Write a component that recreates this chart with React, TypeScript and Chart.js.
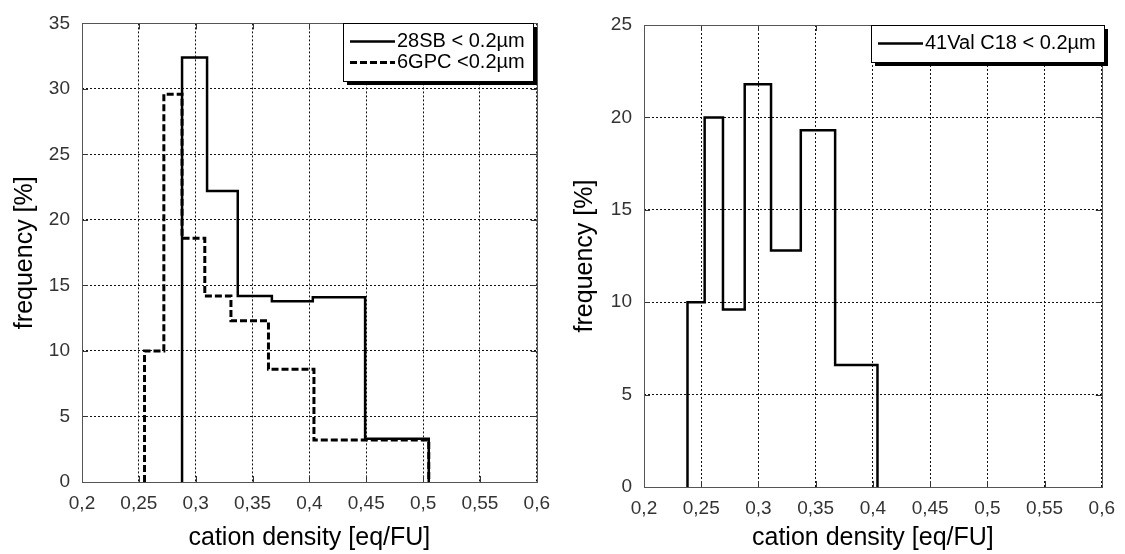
import React, { useEffect, useRef } from 'react';
import { Chart, registerables } from 'chart.js';

Chart.register(...registerables);

const FONT = '"Liberation Sans", Arial, Helvetica, sans-serif';

// Histogram bin edges (cation density, eq/FU) and bin frequencies (%)
const sb28Edges = [0.288, 0.31, 0.337, 0.367, 0.403, 0.449, 0.505];
const sb28Freq = [32.4, 22.2, 14.2, 13.8, 14.1, 3.3];

const gpc6Edges = [0.255, 0.272, 0.288, 0.308, 0.331, 0.364, 0.404, 0.505];
const gpc6Freq = [10.0, 29.6, 18.6, 14.2, 12.3, 8.6, 3.2];

const val41Edges = [0.238, 0.253, 0.269, 0.288, 0.311, 0.337, 0.367, 0.404];
const val41Freq = [10.0, 20.0, 9.6, 21.8, 12.8, 19.3, 6.6];

const xMin = 0.2;
const xMax = 0.6;
const xStep = 0.05;
const yStep = 5;

const xTitle = 'cation density [eq/FU]';
const yTitle = 'frequency [%]';

// Outline of a histogram: rise at the first edge, step across each bin, drop at the last edge
function stepPoints(edges: number[], freq: number[]) {
  const pts = [{ x: edges[0], y: 0 }];
  freq.forEach((f, i) => pts.push({ x: edges[i], y: f }));
  pts.push({ x: edges[edges.length - 1], y: 0 });
  return pts;
}

const formatComma = (v: number) => String(+v.toFixed(2)).replace('.', ',');

type Series = { label: string; edges: number[]; freq: number[]; dash: number[]; width: number };

function framePlugin(legendInset: number) {
  return {
    id: 'frameTicksLegend',
    afterDraw(chart: any) {
      const { ctx, chartArea: a, scales } = chart;
      ctx.save();
      // short inward tick marks on all four sides
      ctx.strokeStyle = '#333';
      ctx.lineWidth = 1;
      ctx.setLineDash([]);
      ctx.beginPath();
      scales.x.ticks.forEach((t: any) => {
        const px = Math.round(scales.x.getPixelForValue(t.value)) + 0.5;
        ctx.moveTo(px, a.bottom);
        ctx.lineTo(px, a.bottom - 6);
        ctx.moveTo(px, a.top);
        ctx.lineTo(px, a.top + 6);
      });
      scales.y.ticks.forEach((t: any) => {
        const py = Math.round(scales.y.getPixelForValue(t.value)) + 0.5;
        ctx.moveTo(a.left, py);
        ctx.lineTo(a.left + 6, py);
        ctx.moveTo(a.right, py);
        ctx.lineTo(a.right - 6, py);
      });
      ctx.stroke();

      // plot frame
      ctx.strokeStyle = '#555';
      ctx.strokeRect(Math.round(a.left) + 0.5, Math.round(a.top) + 0.5, Math.round(a.width), Math.round(a.height));

      // boxed legend with drop shadow in the upper-right corner
      ctx.font = `20px ${FONT}`;
      const items = chart.data.datasets;
      const textW = Math.max(...items.map((d: any) => ctx.measureText(d.label).width));
      const padL = 7, lineLen = 45, gap = 2, padR = 8, rowH = 21, padV = 8;
      const w = Math.round(padL + lineLen + gap + textW + padR);
      const h = padV * 2 + rowH * items.length;
      const x = Math.round(a.right - legendInset - w);
      const y = Math.round(a.top);
      ctx.fillStyle = '#000';
      ctx.fillRect(x + 4, y + 4, w, h);
      ctx.fillStyle = '#fff';
      ctx.fillRect(x, y, w, h);
      ctx.strokeStyle = '#000';
      ctx.lineWidth = 1;
      ctx.strokeRect(x + 0.5, y + 0.5, w, h);
      items.forEach((d: any, i: number) => {
        const cy = y + padV + rowH * (i + 0.5);
        ctx.setLineDash(d.borderDash || []);
        ctx.lineWidth = d.borderWidth;
        ctx.beginPath();
        ctx.moveTo(x + padL, cy);
        ctx.lineTo(x + padL + lineLen, cy);
        ctx.stroke();
        ctx.setLineDash([]);
        ctx.fillStyle = '#000';
        ctx.textBaseline = 'middle';
        ctx.textAlign = 'left';
        ctx.fillText(d.label, x + padL + lineLen + gap, cy);
      });
      ctx.restore();
    },
  };
}

type HistProps = {
  series: Series[];
  yMax: number;
  left: number;
  width: number;
  height: number;
  axisW: number;
  axisH: number;
  padTop: number;
  padRight: number;
  legendInset: number;
};

function Histogram(props: HistProps) {
  const ref = useRef<HTMLCanvasElement | null>(null);
  useEffect(() => {
    if (!ref.current) return;
    const p = props;
    const chart = new Chart(ref.current, {
      type: 'line',
      data: {
        datasets: p.series.map((s) => ({
          label: s.label,
          data: stepPoints(s.edges, s.freq),
          borderColor: '#000',
          borderWidth: s.width,
          borderDash: s.dash,
          borderJoinStyle: 'miter',
          borderCapStyle: 'butt',
          pointRadius: 0,
          stepped: 'before',
          fill: false,
          tension: 0,
        })),
      } as any,
      options: {
        responsive: false,
        animation: false,
        devicePixelRatio: 1,
        layout: { padding: { top: p.padTop, right: p.padRight, left: 0, bottom: 0 } },
        plugins: { legend: { display: false }, tooltip: { enabled: false } },
        scales: {
          x: {
            type: 'linear',
            min: xMin,
            max: xMax,
            ticks: {
              stepSize: xStep,
              callback: (v: any) => formatComma(Number(v)),
              color: '#333',
              font: { family: FONT, size: 19 },
              padding: 10,
              maxRotation: 0,
              autoSkip: false,
            },
            grid: { color: '#111', lineWidth: 1, drawTicks: false },
            border: { display: false, dash: [2, 2] },
            title: {
              display: true,
              text: xTitle,
              color: '#000',
              font: { family: FONT, size: 25 },
              padding: { top: 0, bottom: 1 },
            },
            afterFit: (s: any) => {
              s.height = p.axisH;
            },
          },
          y: {
            type: 'linear',
            min: 0,
            max: p.yMax,
            ticks: {
              stepSize: yStep,
              color: '#333',
              font: { family: FONT, size: 19 },
              padding: 12,
            },
            grid: { color: '#111', lineWidth: 1, drawTicks: false },
            border: { display: false, dash: [2, 2] },
            title: {
              display: true,
              text: yTitle,
              color: '#000',
              font: { family: FONT, size: 25 },
              padding: { top: 10, bottom: 0 },
            },
            afterFit: (s: any) => {
              s.width = p.axisW;
            },
          },
        },
      } as any,
      plugins: [framePlugin(p.legendInset)],
    });
    return () => chart.destroy();
  }, []);
  return (
    <canvas
      ref={ref}
      width={props.width}
      height={props.height}
      style={{ position: 'absolute', left: props.left, top: 0, width: props.width, height: props.height }}
    />
  );
}

const leftSeries: Series[] = [
  { label: '28SB < 0.2µm', edges: sb28Edges, freq: sb28Freq, dash: [], width: 2.5 },
  { label: '6GPC <0.2µm', edges: gpc6Edges, freq: gpc6Freq, dash: [7, 3], width: 3 },
];

const rightSeries: Series[] = [
  { label: '41Val C18 < 0.2µm', edges: val41Edges, freq: val41Freq, dash: [], width: 2.5 },
];

export default function App() {
  return (
    <div style={{ position: 'absolute', left: 0, top: 0, width: 1125, height: 554, background: '#fff' }}>
      <Histogram
        series={leftSeries}
        yMax={35}
        left={0}
        width={560}
        height={554}
        axisW={82}
        axisH={72}
        padTop={22}
        padRight={17}
        legendInset={4}
      />
      <Histogram
        series={rightSeries}
        yMax={25}
        left={560}
        width={565}
        height={554}
        axisW={84}
        axisH={67}
        padTop={25}
        padRight={19}
        legendInset={-2}
      />
    </div>
  );
}
